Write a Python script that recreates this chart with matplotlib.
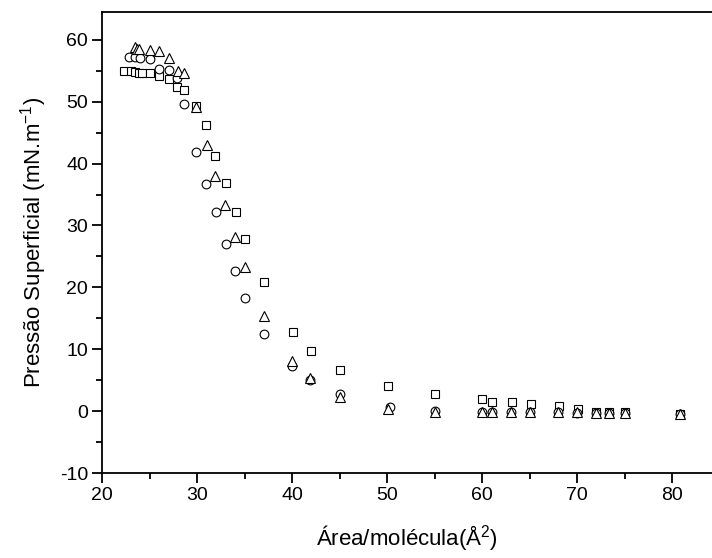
import numpy as np
import matplotlib
matplotlib.use("Agg")
import matplotlib.pyplot as plt
from matplotlib.ticker import MultipleLocator

plt.rcParams["font.family"] = ["Liberation Sans", "DejaVu Sans"]
plt.rcParams["mathtext.fontset"] = "custom"
plt.rcParams["mathtext.rm"] = "Liberation Sans"
plt.rcParams["mathtext.it"] = "Liberation Sans"
plt.rcParams["axes.unicode_minus"] = False

# Isotherm data: area per molecule (A^2) vs surface pressure (mN/m)
area_sq = [22.3, 23.0, 23.5, 23.9, 24.2, 25.0, 26.0, 27.0, 27.9, 28.6, 29.9, 30.9,
           31.9, 33.0, 34.1, 35.1, 37.0, 40.1, 42.0, 45.0, 50.1, 55.0, 60.0, 61.0,
           63.1, 65.1, 68.1, 70.1, 72.0, 73.4, 75.0, 80.8]
press_sq = [55.0, 54.9, 54.8, 54.7, 54.7, 54.6, 54.2, 53.7, 52.3, 51.9, 49.3, 46.2,
            41.2, 36.9, 32.2, 27.8, 20.8, 12.8, 9.7, 6.6, 4.1, 2.7, 1.9, 1.5,
            1.5, 1.2, 0.8, 0.4, -0.1, -0.1, -0.2, -0.4]

area_ci = [22.8, 23.5, 24.0, 25.0, 26.0, 27.1, 27.9, 28.6, 29.9, 30.9, 32.0, 33.0,
           34.0, 35.0, 37.0, 40.0, 41.9, 45.0, 50.3, 55.0, 60.0, 61.0, 63.0, 65.0,
           68.0, 70.0, 72.0, 73.4, 75.0, 80.8]
press_ci = [57.3, 57.2, 57.0, 56.9, 55.3, 55.1, 53.9, 49.7, 41.9, 36.7, 32.1, 27.0,
            22.7, 18.3, 12.4, 7.3, 5.0, 2.7, 0.7, 0.0, -0.2, -0.2, -0.2, -0.2,
            -0.2, -0.3, -0.3, -0.3, -0.3, -0.4]

area_tr = [23.5, 23.7, 23.9, 25.0, 26.0, 27.0, 28.0, 28.6, 29.9, 31.0, 31.9, 32.9,
           34.0, 35.0, 37.0, 40.0, 41.9, 45.0, 50.1, 55.0, 60.0, 61.0, 63.0, 65.0,
           68.0, 70.0, 72.0, 73.4, 75.0, 80.8]
press_tr = [58.8, 58.6, 58.5, 58.3, 58.2, 57.0, 55.0, 54.6, 49.2, 43.0, 38.0, 33.3,
            28.2, 23.3, 15.4, 8.1, 5.3, 2.3, 0.3, -0.1, -0.2, -0.2, -0.2, -0.2,
            -0.2, -0.2, -0.3, -0.3, -0.3, -0.4]

fig = plt.figure(figsize=(7.12, 5.58), dpi=100)
ax = fig.add_axes([0.1433, 0.1523, 0.8567, 0.8262])

style = dict(linestyle="none", markerfacecolor="white", markeredgecolor="black",
             markeredgewidth=0.8)
ax.plot(area_sq, press_sq, marker="s", markersize=5.6, **style)
ax.plot(area_ci, press_ci, marker="o", markersize=6.3, **style)
ax.plot(area_tr, press_tr, marker="^", markersize=7.4, **style)

ax.set_xlim(20, 84.2)
ax.set_ylim(-10, 64.5)
ax.xaxis.set_major_locator(MultipleLocator(10))
ax.xaxis.set_minor_locator(MultipleLocator(5))
ax.yaxis.set_major_locator(MultipleLocator(10))
ax.yaxis.set_minor_locator(MultipleLocator(5))

ax.spines["right"].set_visible(False)
for s in ax.spines.values():
    s.set_linewidth(1.3)
ax.tick_params(which="both", direction="out", width=1.3, labelsize=14, pad=3)
ax.tick_params(which="major", length=7)
ax.tick_params(which="minor", length=4)

ax.set_xlabel("Área/molécula(Å$^{\\mathrm{2}}$)", fontsize=16, labelpad=14)
ax.set_ylabel("Pressão Superficial (mN.m$^{\\mathrm{-1}}$)", fontsize=16, labelpad=8)

fig.savefig("out.png", dpi=100)
